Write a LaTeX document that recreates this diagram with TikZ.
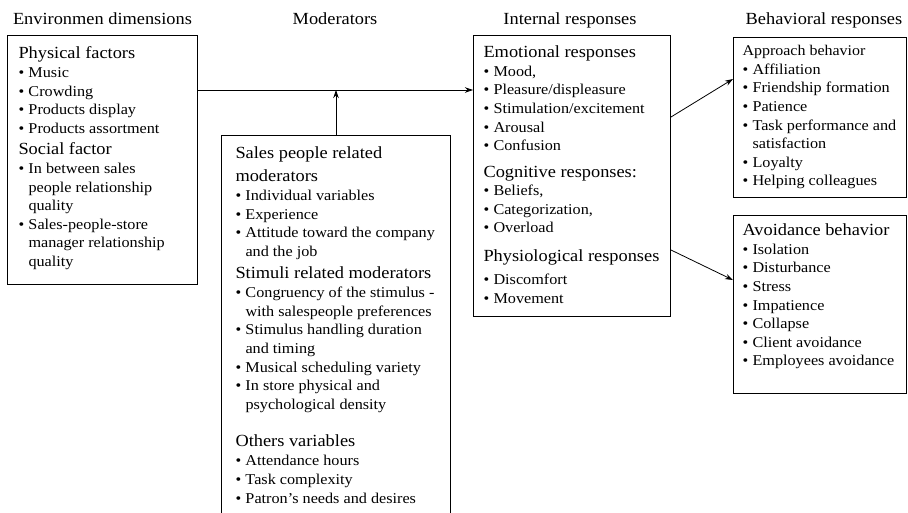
\documentclass[tikz,border=0pt]{standalone}
\usepackage{fontspec}
\setmainfont[FakeStretch=1.08]{Liberation Serif}
\usetikzlibrary{arrows.meta}

\newcommand{\hd}[1]{{\fontsize{17}{18.6}\selectfont #1}}
\newcommand{\bl}{\makebox[10pt][l]{\textbullet}}
\newcommand{\ind}{\hspace*{10pt}}

\begin{document}
\begin{tikzpicture}[x=1pt, y=1pt,
    box/.style={draw, line width=1pt, anchor=north west, inner xsep=11pt, inner ysep=11.4pt},
    title/.style={anchor=base, font=\fontsize{17}{20}\selectfont},
    arrow/.style={->, >={Stealth[length=8pt, width=5.5pt]}, line width=0.8pt}
]
    \useasboundingbox (0,0) rectangle (908,-512);

    % Titles
    \node[title] (tenv) at (102.5,-24) {Environmen dimensions};
    \node[title] (tmod) at (335,-24) {Moderators};
    \node[title] (tint) at (570,-24) {Internal responses};
    \node[title] (tbeh) at (824,-24) {Behavioral responses};

    % Boxes
    \node[box] (env) at (7,-35) {\parbox[c][226.2pt][t]{168pt}{\raggedright\fontsize{15}{18.6}\selectfont
        \hd{Physical factors}\\
        \bl Music\\
        \bl Crowding\\
        \bl Products display\\
        \bl Products assortment\\[3pt]
        \hd{Social factor}\\
        \bl In between sales\\
        \ind people relationship\\
        \ind quality\\
        \bl Sales-people-store\\
        \ind manager relationship\\
        \ind quality}};

    \node[box, inner xsep=14pt] (mod) at (221,-135) {\parbox[c][357.2pt][t]{201pt}{\raggedright\fontsize{15}{18.7}\selectfont
        \hd{Sales people related}\\[4.4pt]
        \hd{moderators}\\
        \bl Individual variables\\
        \bl Experience\\
        \bl Attitude toward the company\\
        \ind and the job\\[3.4pt]
        \hd{Stimuli related moderators}\\
        \bl Congruency of the stimulus -\\
        \ind with salespeople preferences\\
        \bl Stimulus handling duration\\
        \ind and timing\\
        \bl Musical scheduling variety\\
        \bl In store physical and\\
        \ind psychological density\\[18.6pt]
        \hd{Others variables}\\
        \bl Attendance hours\\
        \bl Task complexity\\
        \bl Patron’s needs and desires}};

    \node[box, inner xsep=10pt, inner ysep=10.4pt] (int) at (473,-35) {\parbox[c][260.2pt][t]{177pt}{\raggedright\fontsize{15}{18.6}\selectfont
        \hd{Emotional responses}\\
        \bl Mood,\\
        \bl Pleasure/displeasure\\
        \bl Stimulation/excitement\\
        \bl Arousal\\
        \bl Confusion\\[7.8pt]
        \hd{Cognitive responses:}\\
        \bl Beliefs,\\
        \bl Categorization,\\
        \bl Overload\\[10.2pt]
        \hd{Physiological responses}\\[4.3pt]
        \bl Discomfort\\
        \bl Movement}};

    \node[box, inner xsep=9pt, inner ysep=7.9pt] (app) at (733,-37) {\parbox[c][144.2pt][t]{155pt}{\raggedright\fontsize{15}{18.6}\selectfont
        {\fontsize{14.8}{18.6}\selectfont Approach behavior}\\
        \bl Affiliation\\
        \bl Friendship formation\\
        \bl Patience\\
        \bl Task performance and\\
        \ind satisfaction\\
        \bl Loyalty\\
        \bl Helping colleagues}};

    \node[box, inner xsep=9pt, inner ysep=8.4pt] (avo) at (733,-215) {\parbox[c][161.2pt][t]{155pt}{\raggedright\fontsize{15}{18.6}\selectfont
        \hd{Avoidance behavior}\\
        \bl Isolation\\
        \bl Disturbance\\
        \bl Stress\\
        \bl Impatience\\
        \bl Collapse\\
        \bl Client avoidance\\
        \bl Employees avoidance}};

    % Arrows
    \coordinate (hl) at (0,-90);
    \draw[arrow] (env.east |- hl) -- (int.west |- hl);
    \draw[arrow] (mod.north) -- (mod.north |- hl);
    \draw[arrow] ([yshift=-82pt]int.north east) -- ([yshift=-42pt]app.north west);
    \draw[arrow] ([yshift=-215pt]int.north east) -- ([yshift=-65pt]avo.north west);
\end{tikzpicture}
\end{document}
